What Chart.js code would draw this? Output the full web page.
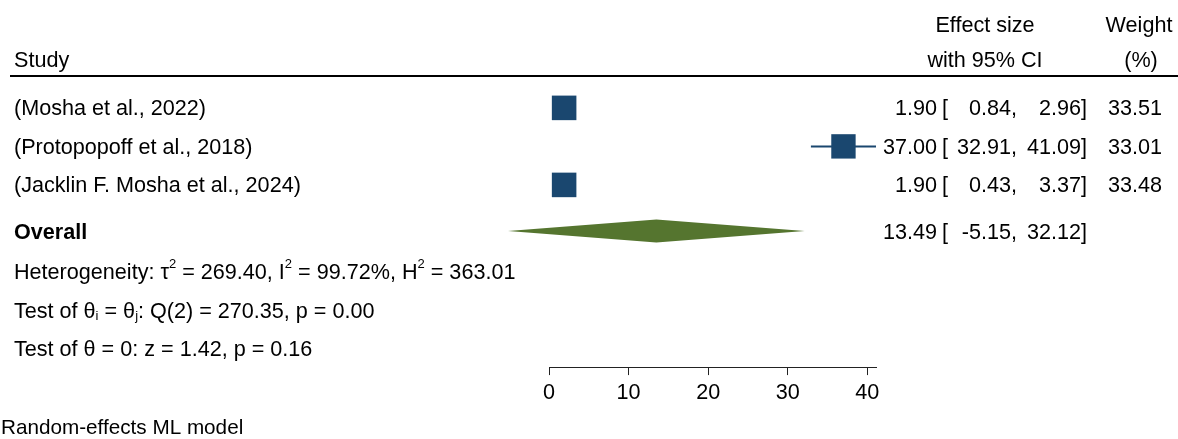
<!DOCTYPE html>
<html>
<head>
<meta charset="utf-8">
<script src="https://cdn.jsdelivr.net/npm/chart.js@4"></script>
<style>
  body { margin: 0; background: #fff; }
  #wrap { position: relative; width: 1178px; height: 439px; }
</style>
</head>
<body>
<div id="wrap"><canvas id="forest"></canvas></div>
<script>
// Study data
const studies = ['(Mosha et al., 2022)', '(Protopopoff et al., 2018)', '(Jacklin F. Mosha et al., 2024)'];
const effects = [1.90, 37.00, 1.90];
const lowerCI = [0.84, 32.91, 0.43];
const upperCI = [2.96, 41.09, 3.37];
const weights = [33.51, 33.01, 33.48];

// Pooled estimate
const overall = { es: 13.49, lo: -5.15, hi: 32.12 };
const tau2 = '269.40', i2 = '99.72%', h2 = '363.01';
const qStat = '270.35', qDf = 2, qP = '0.00';
const zStat = '1.42', zP = '0.16';

const xTicks = [0, 10, 20, 30, 40];

const navy = '#1a476f';
const green = '#55752f';
const FONT = '"Liberation Sans", Arial, sans-serif';
const SIZE = 21.6;
const TY = 1.5; // text nudge so caps sit on the row centre

// row positions on the (hidden) y scale
const overallRow = 3.2;
const statRows = [4.25, 5.25, 6.25];

const ciSets = studies.map((s, i) => ({
    type: 'line',
    data: [{ x: lowerCI[i], y: i }, { x: upperCI[i], y: i }],
    borderColor: navy,
    borderWidth: 2,
    pointRadius: 0,
    clip: false,
    order: 2
}));

function drawRich(ctx, parts, x, y) {
    let cx = x;
    parts.forEach(p => {
        const small = p.sup || p.sub;
        ctx.font = (small ? 13 : SIZE) + 'px ' + FONT;
        const dy = p.sup ? -9 : (p.sub ? 5 : 0);
        ctx.fillText(p.t, cx, y + dy);
        cx += ctx.measureText(p.t).width;
    });
}

const forestText = {
    id: 'forestText',
    afterDatasetsDraw(chart) {
        const ctx = chart.ctx;
        const xs = chart.scales.x, ys = chart.scales.y;
        ctx.save();

        // overall diamond
        const yo = ys.getPixelForValue(overallRow);
        const half = 11.5;
        ctx.fillStyle = green;
        ctx.beginPath();
        ctx.moveTo(xs.getPixelForValue(overall.lo), yo);
        ctx.lineTo(xs.getPixelForValue(overall.es), yo - half);
        ctx.lineTo(xs.getPixelForValue(overall.hi), yo);
        ctx.lineTo(xs.getPixelForValue(overall.es), yo + half);
        ctx.closePath();
        ctx.fill();

        ctx.fillStyle = '#000';
        ctx.textBaseline = 'middle';
        ctx.font = SIZE + 'px ' + FONT;

        // header
        ctx.textAlign = 'left';
        ctx.fillText('Study', 14, 61);
        ctx.textAlign = 'center';
        ctx.fillText('Effect size', 985, 26);
        ctx.fillText('with 95% CI', 985, 61);
        ctx.fillText('Weight', 1139, 26);
        ctx.fillText('(%)', 1141, 61);

        ctx.strokeStyle = '#000';
        ctx.lineWidth = 2;
        ctx.beginPath();
        ctx.moveTo(10, 76);
        ctx.lineTo(1178, 76);
        ctx.stroke();

        // study rows
        const row = (label, es, lo, hi, w, y, bold) => {
            y += TY;
            ctx.font = (bold ? 'bold ' : '') + SIZE + 'px ' + FONT;
            ctx.textAlign = 'left';
            ctx.fillText(label, 14, y);
            ctx.font = SIZE + 'px ' + FONT;
            ctx.textAlign = 'right';
            ctx.fillText(es.toFixed(2), 937, y);
            ctx.textAlign = 'left';
            ctx.fillText('[', 942, y);
            ctx.textAlign = 'right';
            ctx.fillText(lo.toFixed(2) + ',', 1017, y);
            ctx.fillText(hi.toFixed(2) + ']', 1087, y);
            if (w !== null) ctx.fillText(w.toFixed(2), 1162, y);
        };
        studies.forEach((s, i) => row(s, effects[i], lowerCI[i], upperCI[i], weights[i], ys.getPixelForValue(i), false));
        row('Overall', overall.es, overall.lo, overall.hi, null, yo, true);

        // heterogeneity and tests
        ctx.textAlign = 'left';
        drawRich(ctx, [
            { t: 'Heterogeneity: \u03c4' }, { t: '2', sup: true },
            { t: ' = ' + tau2 + ', I' }, { t: '2', sup: true },
            { t: ' = ' + i2 + ', H' }, { t: '2', sup: true },
            { t: ' = ' + h2 }
        ], 14, ys.getPixelForValue(statRows[0]) + TY);
        drawRich(ctx, [
            { t: 'Test of \u03b8' }, { t: 'i', sub: true },
            { t: ' = \u03b8' }, { t: 'j', sub: true },
            { t: ': Q(' + qDf + ') = ' + qStat + ', p = ' + qP }
        ], 14, ys.getPixelForValue(statRows[1]) + TY);
        drawRich(ctx, [
            { t: 'Test of \u03b8 = 0: z = ' + zStat + ', p = ' + zP }
        ], 14, ys.getPixelForValue(statRows[2]) + TY);

        ctx.font = '20.7px ' + FONT;
        ctx.fillText('Random-effects ML model', 1, 428);
        ctx.restore();
    }
};

new Chart(document.getElementById('forest'), {
    type: 'scatter',
    data: {
        datasets: [{
            data: effects.map((e, i) => ({ x: e, y: i })),
            pointStyle: 'rect',
            pointRadius: weights.map(w => Math.sqrt(w) * 3),
            backgroundColor: navy,
            borderWidth: 0,
            clip: false,
            order: 1
        }, ...ciSets]
    },
    options: {
        responsive: true,
        maintainAspectRatio: false,
        animation: false,
        layout: { padding: { left: 549, right: 302, top: 89, bottom: 28 } },
        plugins: { legend: { display: false }, tooltip: { enabled: false } },
        scales: {
            x: {
                type: 'linear',
                min: 0,
                max: Math.max(...upperCI),
                afterBuildTicks: scale => { scale.ticks = xTicks.map(v => ({ value: v })); },
                grid: { drawOnChartArea: false, drawTicks: true, tickLength: 8, color: '#222' },
                border: { display: true, color: '#222', width: 1 },
                ticks: { color: '#000', padding: 5, font: { family: FONT, size: SIZE } }
            },
            y: {
                type: 'linear',
                display: false,
                reverse: true,
                min: -0.49,
                max: 6.73
            }
        }
    },
    plugins: [forestText]
});
</script>
</body>
</html>
